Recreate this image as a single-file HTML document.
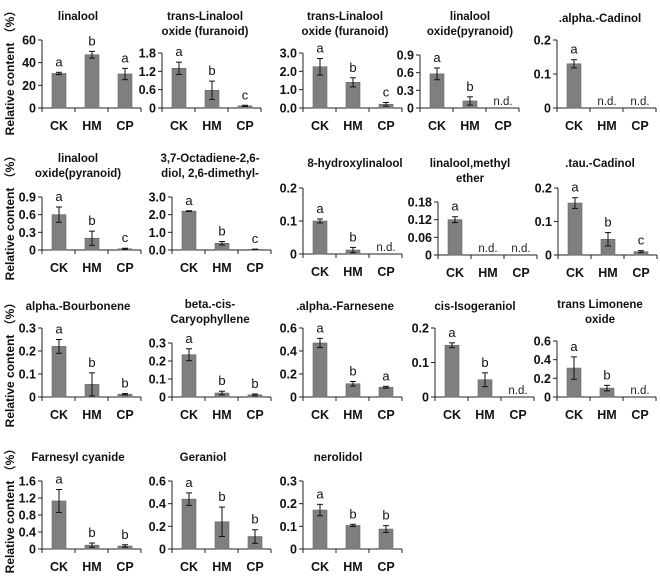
<!DOCTYPE html>
<html><head><meta charset="utf-8"><style>
html,body{margin:0;padding:0;background:#fff}
svg{display:block}
text{font-family:"Liberation Sans","Noto Sans CJK SC",sans-serif}
</style></head><body>
<svg id="c" width="660" height="576" viewBox="0 0 660 576"></svg>
<script>
const categories = ["CK","HM","CP"];
const titles = [
 ["linalool"],["trans-Linalool","oxide (furanoid)"],["trans-Linalool","oxide (furanoid)"],["linalool","oxide(pyranoid)"],[".alpha.-Cadinol"],
 ["linalool","oxide(pyranoid)"],["3,7-Octadiene-2,6-","diol, 2,6-dimethyl-"],["8-hydroxylinalool"],["linalool,methyl","ether"],[".tau.-Cadinol"],
 ["alpha.-Bourbonene"],["beta.-cis-","Caryophyllene"],[".alpha.-Farnesene"],["cis-Isogeraniol"],["trans Limonene","oxide"],
 ["Farnesyl  cyanide"],["Geraniol"],["nerolidol"]
];
const tickLabels = [
 ["0","20","40","60"],["0","0.6","1.2","1.8"],["0.0","1.0","2.0","3.0"],["0","0.3","0.6","0.9"],["0","0.1","0.2"],
 ["0","0.3","0.6","0.9"],["0.0","1.0","2.0","3.0"],["0","0.1","0.2"],["0","0.06","0.12","0.18"],["0","0.1","0.2"],
 ["0","0.1","0.2","0.3"],["0","0.1","0.2","0.3"],["0","0.2","0.4","0.6"],["0","0.1","0.2"],["0","0.2","0.4","0.6"],
 ["0","0.4","0.8","1.2","1.6"],["0","0.2","0.4","0.6"],["0","0.1","0.2","0.3"]
];
const values = [
 [30.5,47,30],[1.3,0.58,0.07],[2.25,1.4,0.2],[0.58,0.12,null],[0.13,null,null],
 [0.6,0.2,0.02],[2.2,0.38,0.04],[0.1,0.012,null],[0.12,null,null],[0.155,0.047,0.01],
 [0.22,0.055,0.012],[0.235,0.022,0.012],[0.47,0.115,0.085],[0.15,0.05,null],[0.31,0.095,null],
 [1.13,0.09,0.07],[0.44,0.24,0.11],[0.172,0.104,0.088]
];
const errors = [
 [1,3,5],[0.2,0.3,0.02],[0.45,0.25,0.1],[0.1,0.07,0],[0.012,0,0],
 [0.13,0.12,0.01],[0.02,0.1,0.01],[0.006,0.008,0],[0.01,0,0],[0.016,0.02,0.003],
 [0.03,0.05,0.003],[0.033,0.01,0.005],[0.04,0.02,0.008],[0.007,0.02,0],[0.12,0.03,0],
 [0.27,0.05,0.03],[0.055,0.13,0.06],[0.025,0.005,0.015]
];
const letters = [
 ["a","b","a"],["a","b","c"],["a","b","c"],["a","b",""],["a","",""],
 ["a","b","c"],["a","b","c"],["a","b",""],["a","",""],["a","b","c"],
 ["a","b","b"],["a","b","b"],["a","b","a"],["a","b",""],["a","b",""],
 ["a","b","b"],["a","b","b"],["a","b","b"]
];
// layout: [axisX, topY, baseY, titleCenterX, titleY]
const layout = [
 [42,40,108,78,20],[162,53,108,205,20],[303,53,108,345,20],[420,55,108,470,20],[557,40,108,600,22],
 [42,197,250,78,162],[172,197,250,210,162],[303,188,254,355,167],[438,202,255,470,167],[558,188,255,600,167],
 [42,328,397,78,310],[172,343,397,210,308],[303,328,397,345,310],[435,328,397,475,310],[557,341,397,600,308],
 [42,481,549,78,461],[172,481,549,203,461],[303,481,549,338,461]
];
const NS="http://www.w3.org/2000/svg";
const svg=document.getElementById('c');
function mk(tag,attrs,parent){const e=document.createElementNS(NS,tag);for(const k in attrs)e.setAttribute(k,attrs[k]);(parent||svg).appendChild(e);return e;}
[70,215,362,508].forEach((cy,i)=>{
  const t=mk('text',{x:0,y:0,transform:`translate(14,${cy}) rotate(-90)`,'text-anchor':'middle','font-size':'12','font-weight':'bold',fill:'#111'});
  t.textContent='Relative content （%）';
  
  
});
const SP=33, BW=14, AXLEN=99;
layout.forEach((L,p)=>{
  const [ax,top,base,tcx,ty]=L;
  const g=mk('g',{});
  
  
  const ticks=tickLabels[p];
  const maxV=parseFloat(ticks[ticks.length-1]);
  const y=v=>base-(v/maxV)*(base-top);
  const x=i=>ax+17+SP*i;
  titles[p].forEach((ln,k)=>{
    const t=mk('text',{x:tcx,y:ty+k*15,'text-anchor':'middle','font-size':'11.5','font-weight':'bold',fill:'#111'},g);
    t.textContent=ln;
    
    
  });
  mk('line',{x1:ax,y1:top,x2:ax,y2:base,stroke:'#222','stroke-width':1},g);
  mk('line',{x1:ax,y1:base,x2:ax+AXLEN,y2:base,stroke:'#222','stroke-width':1},g);
  for(let i=0;i<=3;i++)mk('line',{x1:ax+SP*i,y1:base,x2:ax+SP*i,y2:base+4,stroke:'#222'},g);
  ticks.forEach(tl=>{
    const yy=y(parseFloat(tl));
    mk('line',{x1:ax-4,y1:yy,x2:ax,y2:yy,stroke:'#222'},g);
    const t=mk('text',{x:ax-6,y:yy+4.5,'text-anchor':'end','font-size':'12.5','font-weight':'bold',fill:'#111'},g);
    t.textContent=tl;
    
    
  });
  categories.forEach((c,i)=>{
    const t=mk('text',{x:x(i),y:base+22,'text-anchor':'middle','font-size':'12.5','font-weight':'bold',fill:'#111'},g);
    t.textContent=c;
    
    
    const v=values[p][i];
    if(v===null){
      const n=mk('text',{x:x(i),y:base-3,'text-anchor':'middle','font-size':'11.5',fill:'#222'},g);
      n.textContent='n.d.';
      
      
      return;
    }
    const yv=y(v);
    const r=mk('rect',{x:x(i)-BW/2,y:yv,width:BW,height:Math.max(base-yv,1),fill:'#7f7f7f',stroke:'#666','stroke-width':0.6},g);
    
    
    const e=errors[p][i];
    const y1=y(v+e), y2=y(Math.max(v-e,0));
    mk('line',{x1:x(i),y1:y1,x2:x(i),y2:y2,stroke:'#111','stroke-width':1},g);
    mk('line',{x1:x(i)-3,y1:y1,x2:x(i)+3,y2:y1,stroke:'#111'},g);
    mk('line',{x1:x(i)-3,y1:y2,x2:x(i)+3,y2:y2,stroke:'#111'},g);
    const lt=letters[p][i];
    if(lt){
      const t=mk('text',{x:x(i),y:y1-6,'text-anchor':'middle','font-size':'13',fill:'#111'},g);
      t.textContent=lt;
      
      
    }
  });
});
</script>
</body></html>
